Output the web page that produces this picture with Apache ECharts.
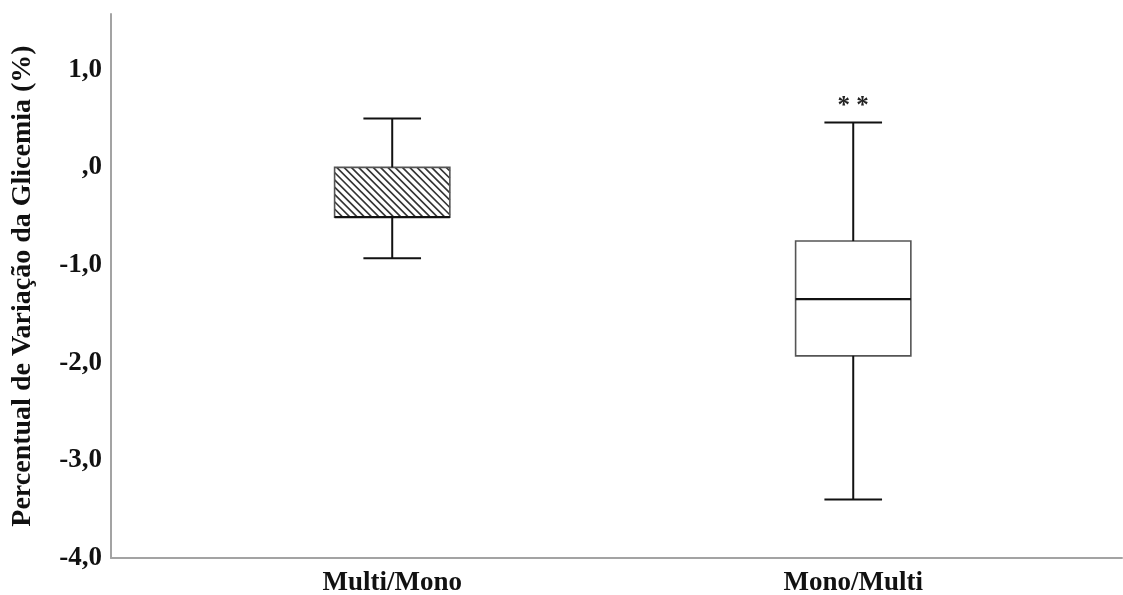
<!DOCTYPE html>
<html><head><meta charset="utf-8">
<script src="https://cdn.jsdelivr.net/npm/echarts@6/dist/echarts.min.js"></script>
<style>html,body{margin:0;padding:0;background:#fff}#c{width:1123px;height:595px}</style>
</head><body><div id="c"></div>
<script>
const categories = ['Multi/Mono', 'Mono/Multi'];
const lowWhisker = [-0.93, -3.40];
const q1 = [-0.51, -1.93];
const median = [-0.51, -1.35];
const q3 = [0.00, -0.755];
const highWhisker = [0.50, 0.46];
const significance = ['', '**'];
const yTicks = [-4, -3, -2, -1, 0, 1];
const yTitle = 'Percentual de Variação da Glicemia (%)';

const hatched = [true, false];
const FONT = "'Liberation Serif', 'Times New Roman', serif";

const data = categories.map((c, i) => [i, lowWhisker[i], q1[i], median[i], q3[i], highWhisker[i]]);

function hatchLines(x0, y0, w, h, step, style) {
  const out = [];
  const cMin = y0 - (x0 + w), cMax = y0 + h - x0;
  for (let c = cMin + step / 2; c < cMax; c += step) {
    const xa = Math.max(x0, y0 - c), xb = Math.min(x0 + w, y0 + h - c);
    if (xb > xa) out.push({type: 'line', shape: {x1: xa, y1: xa + c, x2: xb, y2: xb + c}, style: style});
  }
  return out;
}

function renderItem(params, api) {
  const i = params.dataIndex;
  const x = api.value(0);
  const pLow = api.coord([x, api.value(1)]);
  const pQ1 = api.coord([x, api.value(2)]);
  const pMed = api.coord([x, api.value(3)]);
  const pQ3 = api.coord([x, api.value(4)]);
  const pHigh = api.coord([x, api.value(5)]);
  const boxW = api.size([0.25, 0])[0];
  const capW = api.size([0.125, 0])[0];
  const cx = pMed[0];
  const children = [];
  const bx = cx - boxW / 2, by = pQ3[1], bh = pQ1[1] - pQ3[1];
  children.push({type: 'rect', shape: {x: bx, y: by, width: boxW, height: bh}, style: {fill: '#fff', stroke: 'none'}});
  if (hatched[i]) {
    hatchLines(bx, by, boxW, bh, 7.3, {stroke: '#333', lineWidth: 1.6}).forEach(e => children.push(e));
  }
  children.push({type: 'rect', shape: {x: bx, y: by, width: boxW, height: bh}, style: {fill: 'none', stroke: '#555', lineWidth: 1.6}});
  const lineStyle = {stroke: '#111', lineWidth: 2};
  children.push({type: 'line', shape: {x1: bx, y1: pMed[1], x2: bx + boxW, y2: pMed[1]}, style: {stroke: '#111', lineWidth: 2.2}});
  children.push({type: 'line', shape: {x1: cx, y1: pQ3[1], x2: cx, y2: pHigh[1]}, style: lineStyle});
  children.push({type: 'line', shape: {x1: cx, y1: pQ1[1], x2: cx, y2: pLow[1]}, style: lineStyle});
  children.push({type: 'line', shape: {x1: cx - capW / 2, y1: pHigh[1], x2: cx + capW / 2, y2: pHigh[1]}, style: lineStyle});
  children.push({type: 'line', shape: {x1: cx - capW / 2, y1: pLow[1], x2: cx + capW / 2, y2: pLow[1]}, style: lineStyle});
  if (significance[i]) {
    children.push({type: 'text', x: cx, y: pHigh[1] - 3, style: {text: significance[i].split('').join(' '), font: 'bold 25px ' + FONT, fill: '#222', align: 'center', verticalAlign: 'bottom'}});
  }
  return {type: 'group', children: children};
}

const chart = echarts.init(document.getElementById('c'));
chart.setOption({
  animation: false,
  backgroundColor: '#fff',
  grid: {left: 111, right: 1, top: 14, bottom: 37, containLabel: false, outerBoundsMode: 'none'},
  xAxis: {
    type: 'value', min: -0.61, max: 1.583,
    splitLine: {show: false},
    axisLine: {show: true, onZero: false, lineStyle: {color: '#a3a3a3', width: 2}},
    axisTick: {show: false},
    axisLabel: {customValues: [0, 1], formatter: v => categories[Math.round(v)], fontFamily: FONT, fontWeight: 'bold', fontSize: 27, color: '#111', margin: 12}
  },
  yAxis: {
    type: 'value', min: -4, max: 1.57,
    name: yTitle, nameLocation: 'middle', nameGap: 74,
    nameTextStyle: {fontFamily: FONT, fontWeight: 'bold', fontSize: 28, color: '#111'},
    splitLine: {show: false},
    axisLine: {show: true, onZero: false, lineStyle: {color: '#a3a3a3', width: 2}},
    axisTick: {show: false},
    axisLabel: {customValues: yTicks, formatter: v => v === 0 ? ',0' : v.toFixed(1).replace('.', ','), fontFamily: FONT, fontWeight: 'bold', fontSize: 27, color: '#111', margin: 9}
  },
  series: [{type: 'custom', renderItem: renderItem, data: data, encode: {x: 0, y: [1, 2, 3, 4, 5]}, clip: false}]
});
</script></body></html>
